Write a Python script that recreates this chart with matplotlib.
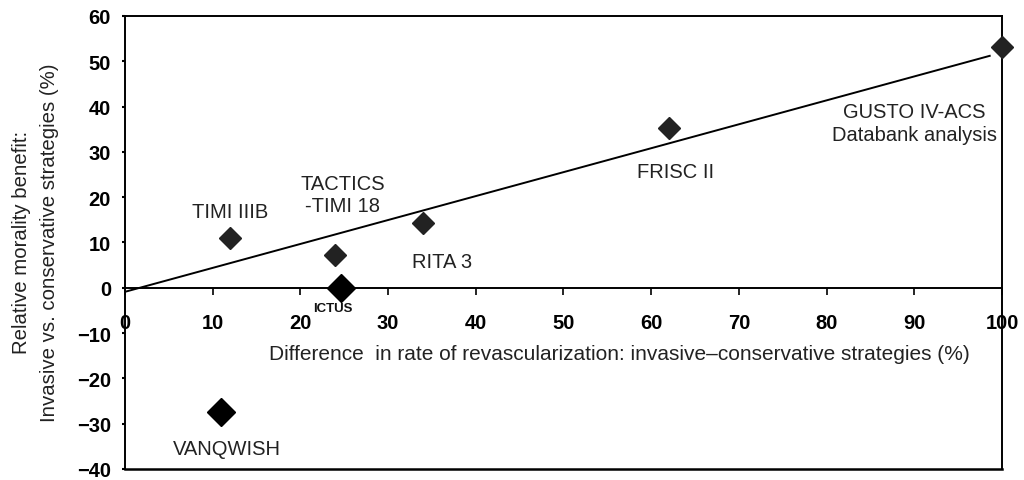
import matplotlib
matplotlib.use("Agg")
import matplotlib.pyplot as plt

plt.rcParams['font.family'] = ['Liberation Sans', 'DejaVu Sans']

# trial points (revascularization difference %, relative mortality benefit %)
trials = ["TIMI IIIB", "TACTICS\n-TIMI 18", "ICTUS", "RITA 3", "FRISC II",
          "GUSTO IV-ACS\nDatabank analysis", "VANQWISH"]
rev_diff = [12, 24, 24.6, 34, 62, 100, 11]
mort_benefit = [11, 7.2, 0, 14.2, 35.2, 53.2, -27.4]
big = [False, False, True, False, False, False, True]

# label positions
lab_x = [12, 24.8, 23.7, 36.2, 62.8, 90, 11.6]
lab_y = [16.9, 20.6, -4.4, 5.8, 25.6, 36.3, -35.5]

# regression line end points
fit_x = [0, 98.6]
fit_y = [-0.9, 51.2]

xticks = list(range(0, 101, 10))
yticks = list(range(-40, 61, 10))

fig = plt.figure(figsize=(10.24, 4.81), dpi=100)
ax = fig.add_axes([0.122, 0.023, 0.8565, 0.9417])

ax.plot(fit_x, fit_y, color='black', lw=1.4, zorder=3)

for i in range(len(trials)):
    if big[i]:
        ax.plot(rev_diff[i], mort_benefit[i], marker='D', ms=14.3, color='black',
                linestyle='none', zorder=4, clip_on=False)
    else:
        ax.plot(rev_diff[i], mort_benefit[i], marker='D', ms=11.7, color='#222222',
                linestyle='none', zorder=4, clip_on=False)

for i in range(len(trials)):
    if trials[i] == "ICTUS":
        ax.text(lab_x[i], lab_y[i], trials[i], ha='center', va='center',
                fontsize=9.5, fontweight='bold', color='#111111')
    else:
        ax.text(lab_x[i], lab_y[i], trials[i], ha='center', va='center',
                fontsize=14.5, color='#222222', linespacing=1.25)

ax.text(56.4, -14.6, "Difference  in rate of revascularization: invasive\u2013conservative strategies (%)",
        ha='center', va='center', fontsize=15, color='#222222')

ax.set_xlim(0, 100)
ax.set_ylim(-40, 60)

ax.spines['bottom'].set_position(('data', 0))
ax.spines['left'].set_linestyle((0, (2.5, 1)))
for s in ax.spines.values():
    s.set_linewidth(1.4)
ax.axhline(-40, color='black', lw=1.8, clip_on=False)

ax.set_xticks(xticks)
ax.set_xticklabels([str(v) for v in xticks], fontweight='bold', fontsize=14.5)
ax.set_yticks(yticks)
ax.set_yticklabels(["\u2212" + str(-v) if v < 0 else str(v) for v in yticks],
                   fontweight='bold', fontsize=14.5)
ax.tick_params(axis='x', direction='out', length=5, width=1.2, pad=13)
ax.tick_params(axis='y', direction='out', length=2, width=1.5, pad=8)

fig.text(0.021, 0.495, "Relative morality benefit:", rotation=90, ha='center', va='center',
         fontsize=14.7, color='#222222')
fig.text(0.048, 0.495, "Invasive vs. conservative strategies (%)", rotation=90,
         ha='center', va='center', fontsize=14.7, color='#222222')

fig.savefig("out.png", dpi=100)
